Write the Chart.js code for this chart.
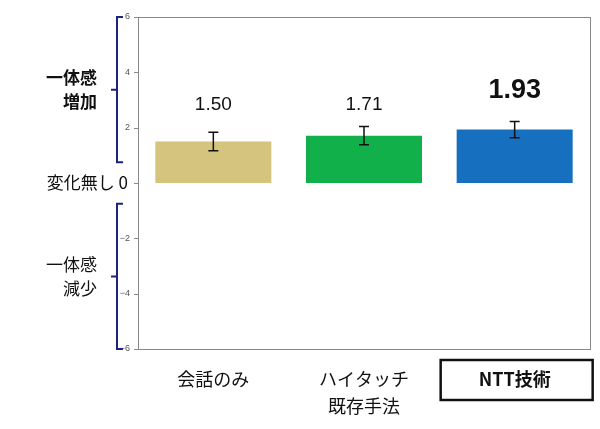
<!DOCTYPE html>
<html><head><meta charset="utf-8">
<script src="https://cdn.jsdelivr.net/npm/chart.js"></script>
<style>html,body{margin:0;padding:0;background:#fff}#w{width:600px;height:429px}</style>
</head><body><div id="w"><canvas id="c"></canvas></div>
<script>
const categories = [["会話のみ"], ["ハイタッチ", "既存手法"], ["NTT技術"]];
const values = [1.50, 1.71, 1.93];
const errors = [0.33, 0.33, 0.29];
const colors = ["#d4c47e", "#12b04a", "#1670bf"];
const yTicks = [6, 4, 2, -2, -4, -6];

const plug = {
  id: 'custom',
  afterDatasetsDraw(chart) {
    const ctx = chart.ctx, ca = chart.chartArea;
    const x = chart.scales.x, y = chart.scales.y;
    ctx.save();
    // frame
    ctx.strokeStyle = '#888'; ctx.lineWidth = 1;
    ctx.strokeRect(ca.left + 0.5, ca.top + 0.5, ca.right - ca.left, ca.bottom - ca.top);
    // y ticks
    ctx.fillStyle = '#555'; ctx.font = '9px "Liberation Sans"'; ctx.textAlign = 'right'; ctx.textBaseline = 'middle';
    [6,4,2,0,-2,-4,-6].forEach(v => {
      const py = Math.round(y.getPixelForValue(v)) + 0.5;
      ctx.beginPath(); ctx.moveTo(ca.left - 4, py); ctx.lineTo(ca.left, py); ctx.stroke();
    });
    yTicks.forEach(v => {
      const py = y.getPixelForValue(v);
      ctx.fillText(v < 0 ? '−' + Math.abs(v) : String(v), ca.left - 8, py);
    });
    // zero label
    ctx.fillStyle = '#111'; ctx.font = '17px "Noto Sans CJK JP"';
    ctx.fillText('変化無し 0', ca.left - 10, y.getPixelForValue(0));
    // brackets
    ctx.strokeStyle = '#1a237e'; ctx.lineWidth = 2;
    function bracket(t, b) {
      const bx = 117, tx = 123;
      const yt = y.getPixelForValue(t), yb = y.getPixelForValue(b);
      ctx.beginPath(); ctx.moveTo(tx, yt); ctx.lineTo(bx, yt); ctx.lineTo(bx, yb); ctx.lineTo(tx, yb);
      const m = (yt + yb) / 2; ctx.moveTo(bx, m); ctx.lineTo(bx - 6, m); ctx.stroke();
    }
    bracket(6, 0.75); bracket(-0.75, -6);
    ctx.fillStyle = '#111'; ctx.textAlign = 'right';
    ctx.font = 'bold 17px "Noto Sans CJK JP"';
    const mu = (y.getPixelForValue(6) + y.getPixelForValue(0.75)) / 2;
    ctx.fillText('一体感', 97, mu - 12); ctx.fillText('増加', 97, mu + 12);
    ctx.font = '17px "Noto Sans CJK JP"';
    const ml = (y.getPixelForValue(-0.75) + y.getPixelForValue(-6)) / 2;
    ctx.fillText('一体感', 97, ml - 12); ctx.fillText('減少', 97, ml + 12);
    // error bars & values
    const meta = chart.getDatasetMeta(0);
    ctx.strokeStyle = '#111'; ctx.lineWidth = 1.5; ctx.textAlign = 'center';
    values.forEach((v, i) => {
      const px = meta.data[i].x;
      const yt = y.getPixelForValue(v + errors[i]), yb = y.getPixelForValue(v - errors[i]);
      ctx.beginPath(); ctx.moveTo(px, yt); ctx.lineTo(px, yb);
      ctx.moveTo(px - 5, yt); ctx.lineTo(px + 5, yt); ctx.moveTo(px - 5, yb); ctx.lineTo(px + 5, yb); ctx.stroke();
      ctx.font = i === 2 ? 'bold 27px "Liberation Sans"' : '19px "Liberation Sans"';
      ctx.fillText(v.toFixed(2), px, i === 2 ? 91 : 105);
      // category labels
      const lines = categories[i];
      ctx.font = (i === 2 ? 'bold ' : '') + '18px "Noto Sans CJK JP"';
      lines.forEach((s, k) => ctx.fillText(s, px, ca.bottom + 30 + k * 27));
      if (i === 2) { ctx.lineWidth = 2.5; ctx.strokeRect(px - 74, ca.bottom + 11, 152, 40); ctx.lineWidth = 1.5; }
    });
    ctx.restore();
  }
};

new Chart(document.getElementById('c'), {
  type: 'bar',
  data: { labels: categories.map(c => c.join(' ')), datasets: [{ data: values, backgroundColor: colors, categoryPercentage: 0.77, barPercentage: 1 }] },
  options: {
    responsive: true, maintainAspectRatio: false, animation: false,
    layout: { padding: { left: 138, right: 10, top: 17, bottom: 80 } },
    plugins: { legend: { display: false }, tooltip: { enabled: false } },
    scales: {
      x: { display: false },
      y: { display: false, min: -6, max: 6 }
    }
  },
  plugins: [plug]
});
</script></body></html>
